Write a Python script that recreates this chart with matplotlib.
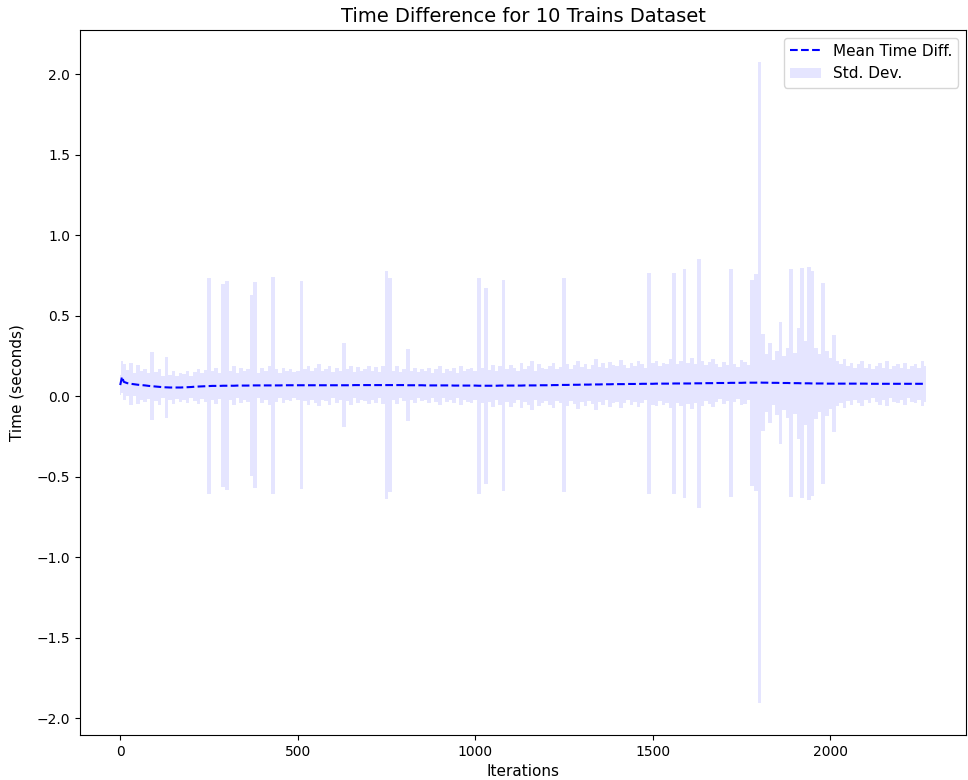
import numpy as np
import matplotlib
matplotlib.use("Agg")
import matplotlib.pyplot as plt

# iterations sampled every 10 steps (plus the early bump and the last step)
iterations = np.concatenate([[0, 5], np.arange(10, 2270, 10), [2269]])

mean_diff = [
    0.070, 0.122,
    0.090, 0.082, 0.078, 0.075, 0.072, 0.070, 0.068, 0.065, 0.063, 0.061,
    0.059, 0.057, 0.056, 0.055, 0.055, 0.055, 0.055, 0.056, 0.057, 0.058,
    0.060, 0.061, 0.062, 0.063, 0.064, 0.065, 0.065, 0.065, 0.066, 0.066,
    0.066, 0.066, 0.067, 0.067, 0.067, 0.067, 0.068, 0.068, 0.068, 0.068,
    0.068, 0.068, 0.068, 0.068, 0.068, 0.069, 0.069, 0.069, 0.069, 0.069,
    0.069, 0.069, 0.069, 0.069, 0.069, 0.069, 0.069, 0.069, 0.069, 0.069,
    0.069, 0.069, 0.069, 0.069, 0.069, 0.070, 0.070, 0.070, 0.070, 0.070,
    0.070, 0.070, 0.070, 0.070, 0.070, 0.070, 0.070, 0.070, 0.070, 0.070,
    0.069, 0.069, 0.069, 0.069, 0.069, 0.068, 0.068, 0.068, 0.068, 0.068,
    0.068, 0.068, 0.068, 0.067, 0.067, 0.067, 0.067, 0.067, 0.067, 0.067,
    0.066, 0.066, 0.066, 0.066, 0.066, 0.066, 0.067, 0.067, 0.067, 0.067,
    0.067, 0.067, 0.067, 0.068, 0.068, 0.068, 0.068, 0.069, 0.069, 0.069,
    0.069, 0.070, 0.070, 0.071, 0.071, 0.071, 0.072, 0.072, 0.072, 0.073,
    0.073, 0.073, 0.074, 0.074, 0.074, 0.075, 0.075, 0.075, 0.076, 0.076,
    0.076, 0.076, 0.077, 0.077, 0.077, 0.077, 0.078, 0.078, 0.078, 0.078,
    0.079, 0.079, 0.079, 0.079, 0.079, 0.080, 0.080, 0.080, 0.080, 0.080,
    0.080, 0.081, 0.081, 0.081, 0.082, 0.082, 0.082, 0.083, 0.083, 0.083,
    0.083, 0.084, 0.084, 0.084, 0.084, 0.085, 0.085, 0.085, 0.085, 0.086,
    0.085, 0.085, 0.084, 0.084, 0.084, 0.083, 0.083, 0.083, 0.082, 0.082,
    0.082, 0.081, 0.081, 0.081, 0.080, 0.080, 0.080, 0.080, 0.079, 0.079,
    0.079, 0.079, 0.079, 0.079, 0.079, 0.079, 0.079, 0.079, 0.079, 0.079,
    0.078, 0.078, 0.078, 0.078, 0.078, 0.078, 0.078, 0.078, 0.078, 0.078,
    0.078, 0.078, 0.078, 0.078, 0.078, 0.078,
    0.078,
]

std_diff = [
    0.06, 0.10,
    0.11, 0.08, 0.13, 0.07, 0.12, 0.09, 0.10, 0.08, 0.21, 0.09,
    0.11, 0.07, 0.19, 0.08, 0.10, 0.07, 0.09, 0.08, 0.10, 0.07,
    0.09, 0.11, 0.08, 0.10, 0.67, 0.09, 0.11, 0.08, 0.63, 0.65,
    0.09, 0.12, 0.08, 0.11, 0.09, 0.10, 0.56, 0.64, 0.08, 0.11,
    0.09, 0.12, 0.675, 0.10, 0.08, 0.11, 0.09, 0.10, 0.08, 0.09,
    0.645, 0.10, 0.12, 0.09, 0.11, 0.13, 0.09, 0.10, 0.12, 0.08,
    0.11, 0.09, 0.26, 0.10, 0.12, 0.08, 0.11, 0.09, 0.10, 0.12,
    0.09, 0.11, 0.08, 0.12, 0.71, 0.665, 0.09, 0.12, 0.08, 0.10,
    0.225, 0.09, 0.11, 0.08, 0.10, 0.09, 0.11, 0.08, 0.10, 0.12,
    0.08, 0.10, 0.09, 0.11, 0.08, 0.12, 0.09, 0.10, 0.11, 0.09,
    0.67, 0.11, 0.61, 0.10, 0.13, 0.09, 0.12, 0.655, 0.10, 0.13,
    0.11, 0.09, 0.14, 0.10, 0.12, 0.15, 0.09, 0.13, 0.11, 0.10,
    0.12, 0.14, 0.10, 0.11, 0.665, 0.13, 0.10, 0.12, 0.15, 0.11,
    0.13, 0.10, 0.12, 0.16, 0.11, 0.13, 0.10, 0.14, 0.12, 0.11,
    0.15, 0.12, 0.10, 0.13, 0.11, 0.14, 0.12, 0.10, 0.685, 0.13,
    0.14, 0.11, 0.13, 0.12, 0.15, 0.685, 0.12, 0.14, 0.71, 0.13,
    0.16, 0.12, 0.775, 0.14, 0.11, 0.13, 0.15, 0.12, 0.10, 0.13,
    0.11, 0.71, 0.12, 0.10, 0.14, 0.13, 0.11, 0.64, 0.675, 1.99,
    0.30, 0.18, 0.25, 0.14, 0.20, 0.38, 0.17, 0.22, 0.71, 0.19,
    0.345, 0.715, 0.26, 0.725, 0.70, 0.22, 0.18, 0.625, 0.20, 0.16,
    0.30, 0.14, 0.12, 0.15, 0.11, 0.13, 0.10, 0.12, 0.14, 0.10,
    0.12, 0.09, 0.11, 0.13, 0.10, 0.14, 0.09, 0.11, 0.12, 0.10,
    0.13, 0.09, 0.11, 0.12, 0.10, 0.14,
    0.11,
]

mean_diff = np.array(mean_diff)
std_diff = np.array(std_diff)

fig = plt.figure(figsize=(9.68, 7.8), dpi=100)
ax = fig.add_axes([0.0826, 0.0577, 0.9154, 0.9038])

ax.plot(iterations, mean_diff, color='blue', linestyle='--', label='Mean Time Diff.')
ax.fill_between(iterations, mean_diff - std_diff, mean_diff + std_diff,
                color='blue', alpha=0.1, step='mid', linewidth=0, label='Std. Dev.')

ax.set_title('Time Difference for 10 Trains Dataset', fontsize=14)
ax.set_xlabel('Iterations', fontsize=11)
ax.set_ylabel('Time (seconds)', fontsize=11, labelpad=9)
ax.legend(loc='upper right', fontsize=11)

fig.savefig('out.png', dpi=100)
